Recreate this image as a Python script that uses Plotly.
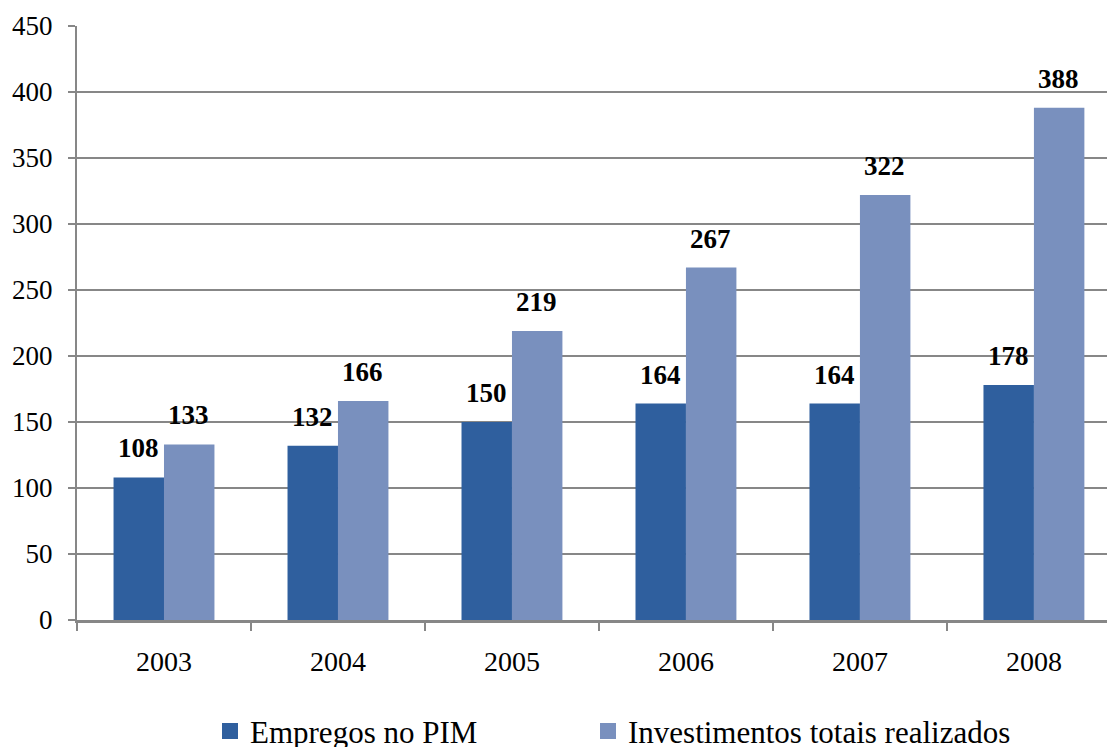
import plotly.graph_objects as go

years = ["2003", "2004", "2005", "2006", "2007", "2008"]
empregos = [108, 132, 150, 164, 164, 178]
investimentos = [133, 166, 219, 267, 322, 388]
y_ticks = [0, 50, 100, 150, 200, 250, 300, 350, 400, 450]
series_names = ["Empregos no PIM", "Investimentos totais realizados"]

FONT = "Liberation Serif, Times New Roman, Times, serif"
GRID = "#878787"
C1 = "#2F5F9E"
C2 = "#7990BE"

fig = go.Figure()
fig.add_trace(go.Bar(x=years, y=empregos, name=series_names[0], showlegend=False,
                     marker=dict(color=C1, line=dict(width=0))))
fig.add_trace(go.Bar(x=years, y=investimentos, name=series_names[1], showlegend=False,
                     marker=dict(color=C2, line=dict(width=0))))
# legend proxies (larger square swatches)
fig.add_trace(go.Scatter(x=[None], y=[None], mode="markers", name=series_names[0],
                         marker=dict(symbol="square", size=18, color=C1), legend="legend"))
fig.add_trace(go.Scatter(x=[None], y=[None], mode="markers", name=series_names[1],
                         marker=dict(symbol="square", size=18, color=C2), legend="legend2"))

for i, v in enumerate(empregos):
    fig.add_annotation(x=i, y=v, xref="x", yref="y", text=f"<b>{v}</b>",
                       showarrow=False, xshift=-25, yshift=29, yanchor="middle",
                       font=dict(family=FONT, size=27, color="black"))
for i, v in enumerate(investimentos):
    fig.add_annotation(x=i, y=v, xref="x", yref="y", text=f"<b>{v}</b>",
                       showarrow=False, xshift=25, yshift=29, yanchor="middle",
                       font=dict(family=FONT, size=27, color="black"))

leg_common = dict(orientation="h", xanchor="left", yref="container", xref="container",
                  y=0.021, yanchor="middle", bgcolor="rgba(0,0,0,0)",
                  font=dict(family=FONT, size=31, color="black"))
fig.update_layout(
    width=1107, height=747,
    margin=dict(l=77, r=0, t=26, b=127),
    paper_bgcolor="white", plot_bgcolor="white",
    barmode="group", bargap=0.42, bargroupgap=0,
    font=dict(family=FONT, color="black"),
    showlegend=True,
    legend=dict(x=210 / 1107, **leg_common),
    legend2=dict(x=588 / 1107, **leg_common),
)
fig.update_xaxes(type="category", range=[-0.5, 5.42],
                 showline=True, linecolor=GRID, linewidth=3,
                 ticks="outside", tickson="boundaries", ticklen=8,
                 tickcolor=GRID, tickwidth=2, ticklabelstandoff=14,
                 tickfont=dict(family=FONT, size=28, color="black"),
                 showgrid=False)
fig.update_yaxes(range=[0, 450], tickvals=y_ticks,
                 showline=True, linecolor=GRID, linewidth=2,
                 ticks="outside", ticklen=7, tickcolor=GRID, tickwidth=2,
                 ticklabelstandoff=10,
                 showgrid=True, gridcolor=GRID, gridwidth=1.5,
                 zeroline=False,
                 tickfont=dict(family=FONT, size=27, color="black"))

fig.write_html("out.html", config={"displayModeBar": False},
               post_script="document.body.style.margin='0';document.body.style.overflow='hidden';")
